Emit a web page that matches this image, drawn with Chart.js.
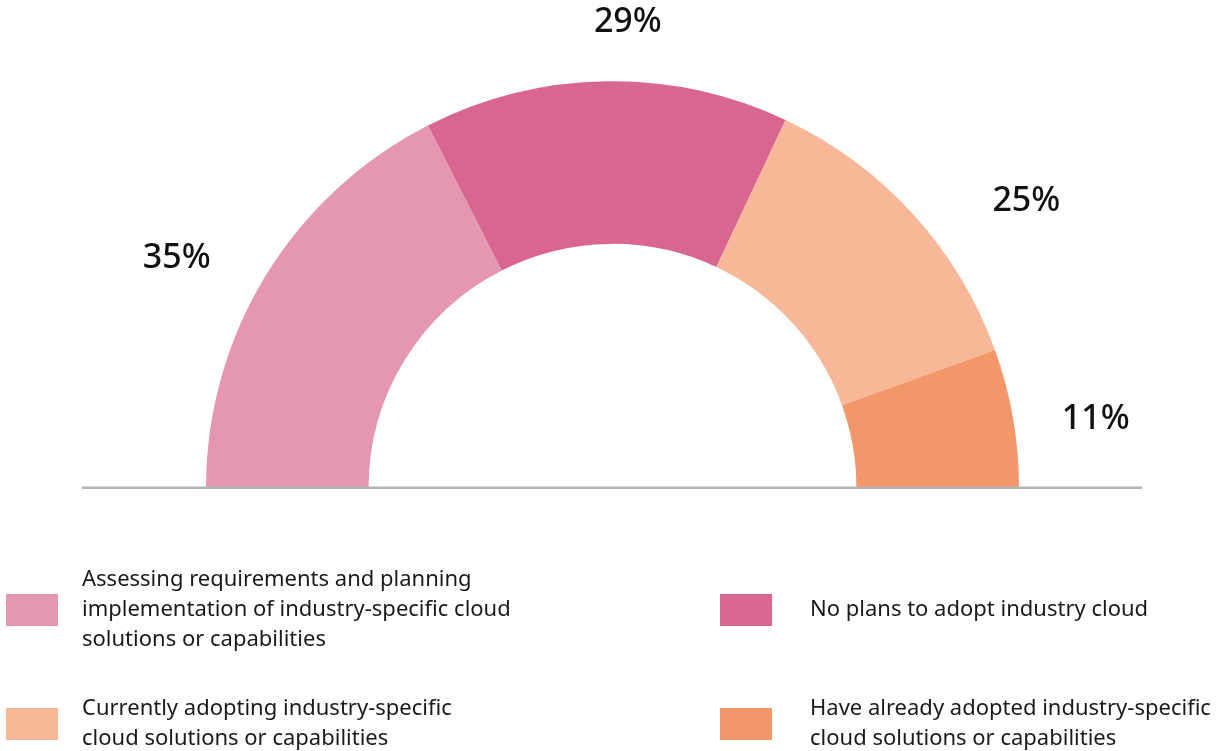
<!DOCTYPE html>
<html>
<head>
<meta charset="utf-8">
<script src="https://cdn.jsdelivr.net/npm/chart.js@4/dist/chart.umd.min.js"></script>
<style>
  html, body { margin: 0; padding: 0; background: #fff; }
  #wrap { position: relative; width: 1219px; height: 751px; overflow: hidden; }
  #chart { position: absolute; left: 0; top: 0; }
  .leg { position: absolute; font-family: "Noto Sans", sans-serif; font-size: 22px; line-height: 30px; color: #1a1a1a; white-space: nowrap; }
  .sw { position: absolute; width: 52px; height: 32px; }
</style>
</head>
<body>
<div id="wrap">
  <canvas id="chart" width="1219" height="751"></canvas>
  <div id="legend"></div>
</div>
<script>
// categories (one entry per line of the legend text)
var categories = [
  ["Assessing requirements and planning", "implementation of industry-specific cloud", "solutions or capabilities"],
  ["No plans to adopt industry cloud"],
  ["Currently adopting industry-specific", "cloud solutions or capabilities"],
  ["Have already adopted industry-specific", "cloud solutions or capabilities"]
];
var shares = [35, 29, 25, 11];
var colors = ['#E597B2', '#D96690', '#F7B899', '#F29768'];

// baseline under the half doughnut + percentage labels
var extras = {
  id: 'extras',
  afterDatasetsDraw: function(chart, args, opts) {
    var c = chart.ctx;
    var arcs = chart.getDatasetMeta(0).data;
    var cx = arcs[0].x, cy = arcs[0].y, r = arcs[0].outerRadius;
    c.save();
    c.strokeStyle = '#b4b4b4';
    c.lineWidth = 2.5;
    c.beginPath();
    c.moveTo(82, cy);
    c.lineTo(1142, cy);
    c.stroke();

    c.fillStyle = '#111';
    c.font = '500 34px "Noto Sans"';
    c.textAlign = 'center';
    c.textBaseline = 'middle';
    arcs.forEach(function(a, i) {
      var mid = (a.startAngle + a.endAngle) / 2;
      var rr = r + 80;
      var n = opts.nudge[i];
      c.fillText(shares[i] + '%', cx + Math.cos(mid) * rr + n[0], cy + Math.sin(mid) * rr + n[1]);
    });
    c.restore();
  }
};

var chart = new Chart(document.getElementById('chart'), {
  type: 'doughnut',
  data: {
    labels: categories.map(function(l) { return l.join(' '); }),
    datasets: [{
      data: shares,
      backgroundColor: colors,
      borderWidth: 0
    }]
  },
  options: {
    responsive: false,
    animation: false,
    rotation: -90,
    circumference: 180,
    cutout: '60%',
    layout: { padding: { left: 206, right: 200, top: 81, bottom: 263 } },
    plugins: {
      legend: { display: false },
      tooltip: { enabled: false },
      extras: { nudge: [[-21, 25], [23, 21], [54, 41], [4, 15]] }
    }
  },
  plugins: [extras]
});

// html legend, two columns
var legend = document.getElementById('legend');
var cols = [{ sw: 6, tx: 82 }, { sw: 720, tx: 810 }];
var rowMid = [610, 724];
categories.forEach(function(lines, i) {
  var col = cols[i % 2], mid = rowMid[Math.floor(i / 2)];
  var sw = document.createElement('div');
  sw.className = 'sw';
  sw.style.background = colors[i];
  sw.style.left = col.sw + 'px';
  sw.style.top = (mid - 16) + 'px';
  legend.appendChild(sw);
  var t = document.createElement('div');
  t.className = 'leg';
  t.innerHTML = lines.join('<br>');
  t.style.left = col.tx + 'px';
  t.style.top = (mid - 3 - lines.length * 15) + 'px';
  legend.appendChild(t);
});
</script>
</body>
</html>
